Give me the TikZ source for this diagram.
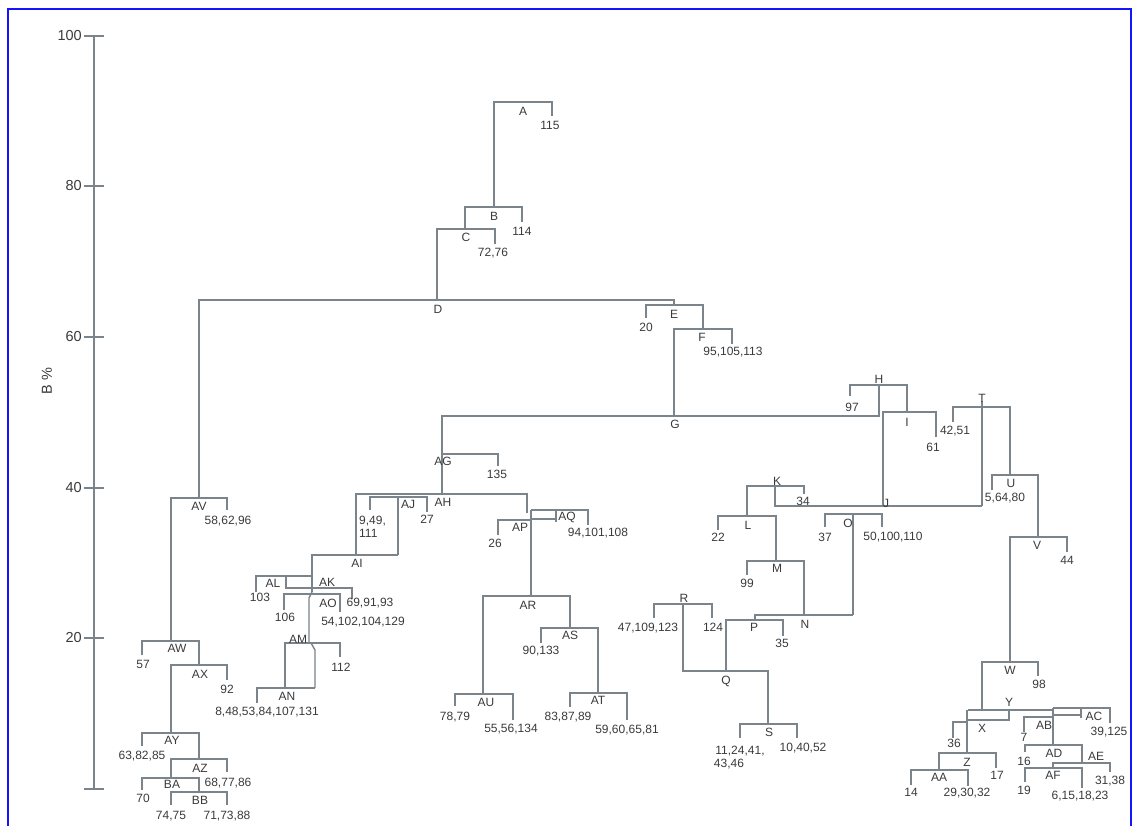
\documentclass[tikz,border=0pt]{standalone}
\usepackage{fontspec}
\setmainfont{Liberation Sans}
\definecolor{lc}{RGB}{122,132,138}
\definecolor{tc}{RGB}{58,58,58}
\definecolor{bc}{RGB}{20,20,255}
\begin{document}
\begin{tikzpicture}[x=1pt,y=-1pt,
  br/.style={draw=lc,line width=1.4pt,line join=miter},
  lab/.style={text=tc,font=\fontsize{12}{13}\selectfont,inner sep=0pt},
  axl/.style={text=tc,font=\fontsize{14.5}{15}\selectfont,inner sep=0pt}]
\useasboundingbox (0,0) rectangle (1134,826);
% frame
\draw[bc,line width=2pt] (8,830) -- (8,9) -- (1131,9) -- (1131,830);
% axis
\draw[br] (94,36) -- (94,789);
\foreach \yy/\tx in {36/100,186/80,337/60,488/40,638/20}{
  \draw[br] (84,\yy) -- (104,\yy);
  \node[axl,anchor=east] (tick\tx) at (82,\yy) {\tx};
}
\draw[br] (84,789) -- (104,789);
\node[axl,rotate=90] (ylab) at (47,381) {B \%};
% ---------- top ----------
\draw[br] (494,207) |- (552,102) -- (552,116);
\node[lab] (nA) at (523,111) {A}; \node[lab] (l115) at (550,125) {115};
\draw[br] (465,229) |- (522,207) -- (522,222);
\node[lab] (nB) at (494,216) {B}; \node[lab] (l114) at (522,231) {114};
\draw[br] (437,300) |- (495,229) -- (495,244);
\node[lab] (nC) at (466,237) {C}; \node[lab] (l7276) at (493,253) {72,76};
\draw[br] (199,498) |- (674,300) -- (674,305);
\node[lab] (nD) at (438,309) {D};
\draw[br] (646,318) |- (703,305) -- (703,329);
\node[lab] (nE) at (674,314) {E}; \node[lab] (l20) at (646,327) {20};
\draw[br] (674,416) |- (732,329) -- (732,344);
\node[lab] (nF) at (702,337) {F}; \node[lab] (l95) at (733,352) {95,105,113};
\draw[br] (442,494) |- (879,416) -- (879,385);
\node[lab] (nG) at (675,424) {G};
% ---------- right ----------
\draw[br] (850,396) |- (907,385) -- (907,412);
\node[lab] (nH) at (879,379) {H}; \node[lab] (l97) at (852,407) {97};
\draw[br] (883,506) |- (936,412) -- (936,437);
\node[lab] (nI) at (907,422) {I}; \node[lab] (l61) at (933,447) {61};
\draw[br] (953,422) |- (1010,407) -- (1010,475);
\draw[br] (982,401) -- (982,506);
\node[lab] (nT) at (982,398) {T}; \node[lab] (l4251) at (955,431) {42,51};
\draw[br] (775,486) |- (982,506);
\node[lab] (nJ) at (886,503) {J};
\draw[br] (747,516) |- (804,486) -- (804,494);
\node[lab] (nK) at (777,481) {K}; \node[lab] (l34) at (803,501) {34};
\draw[br] (718,530) |- (776,516) -- (776,561);
\node[lab] (nL) at (748,525) {L}; \node[lab] (l22) at (718,537) {22};
\draw[br] (747,575) |- (804,561) -- (804,615);
\node[lab] (nM) at (777,568) {M}; \node[lab] (l99) at (747,583) {99};
\draw[br] (825,527) |- (882,514) -- (882,527);
\draw[br] (853,514) -- (853,615);
\node[lab] (nO) at (848,523) {O}; \node[lab] (l37) at (825,537) {37};
\node[lab] (l50) at (893,537) {50,100,110};
\draw[br] (755,620) |- (853,615);
\node[lab] (nN) at (805,624) {N};
\draw[br] (726,671) |- (783,620) -- (783,636);
\node[lab] (nP) at (754,627) {P}; \node[lab] (l35) at (782,643) {35};
\draw[br] (683,604) |- (768,671) -- (768,724);
\node[lab] (nQ) at (726,681) {Q};
\draw[br] (654,618) |- (712,604) -- (712,618);
\node[lab] (nR) at (684,598) {R}; \node[lab] (l47) at (648,628) {47,109,123};
\node[lab] (l124) at (713,627) {124};
\draw[br] (740,738) |- (797,724) -- (797,738);
\node[lab] (nS) at (769,732) {S};
\node[lab] (l11) at (740,751) {11,24,41,}; \node[lab] (l43) at (729,764) {43,46};
\node[lab] (l10) at (803,748) {10,40,52};
\draw[br] (992,490) |- (1038,475) -- (1038,537);
\node[lab] (nU) at (1011,483) {U}; \node[lab] (l5) at (1005,498) {5,64,80};
\draw[br] (1010,662) |- (1067,537) -- (1067,552);
\node[lab] (nV) at (1037,545) {V}; \node[lab] (l44) at (1067,560) {44};
\draw[br] (982,710) |- (1038,662) -- (1038,676);
\node[lab] (nW) at (1010,670) {W}; \node[lab] (l98) at (1039,684) {98};
\draw[br] (968,710) -- (1053,710);
\node[lab] (nY) at (1009,702) {Y};
\draw[br] (1009,710) |- (967,720);
\draw[br] (967,710) -- (967,753);
\node[lab] (nX) at (982,728) {X};
\draw[br] (953,738) |- (967,722);
\node[lab] (l36) at (954,743) {36};
\draw[br] (939,770) |- (996,753) -- (996,768);
\node[lab] (nZ) at (967,762) {Z}; \node[lab] (l17) at (997,775) {17};
\draw[br] (911,785) |- (968,770) -- (968,786);
\node[lab] (nAA) at (939,777) {AA}; \node[lab] (l14) at (911,792) {14};
\node[lab] (l29) at (967,793) {29,30,32};
\draw[br] (1024,732) |- (1053,717);
\draw[br] (1053,708) -- (1053,745);
\node[lab] (nAB) at (1044,725) {AB}; \node[lab] (l7) at (1024,737) {7};
\draw[br] (1053,708) -- (1110,708) -- (1110,723);
\draw[br] (1053,715) -- (1081,715);
\draw[br] (1081,708) -- (1081,718);
\node[lab] (nAC) at (1094,716) {AC}; \node[lab] (l39) at (1109,732) {39,125};
\draw[br] (1025,752) |- (1082,745) -- (1082,763);
\node[lab] (nAD) at (1054,753) {AD}; \node[lab] (l16) at (1024,761) {16};
\draw[br] (1053,768) |- (1110,763) -- (1110,772);
\node[lab] (nAE) at (1096,756) {AE}; \node[lab] (l31) at (1110,781) {31,38};
\draw[br] (1025,782) |- (1082,768) -- (1082,788);
\node[lab] (nAF) at (1053,775) {AF}; \node[lab] (l19) at (1024,790) {19};
\node[lab] (l6) at (1080,796) {6,15,18,23};
% ---------- left ----------
\draw[br] (171,641) |- (227,498) -- (227,510);
\node[lab] (nAV) at (199,506) {AV}; \node[lab] (l58) at (228,521) {58,62,96};
\draw[br] (142,655) |- (199,641) -- (199,665);
\node[lab] (nAW) at (177,648) {AW}; \node[lab] (l57) at (143,664) {57};
\draw[br] (171,733) |- (227,665) -- (227,680);
\node[lab] (nAX) at (200,674) {AX}; \node[lab] (l92) at (227,689) {92};
\draw[br] (142,746) |- (199,733) -- (199,759);
\node[lab] (nAY) at (172,740) {AY}; \node[lab] (l63) at (142,756) {63,82,85};
\draw[br] (171,778) |- (227,759) -- (227,772);
\node[lab] (nAZ) at (200,768) {AZ}; \node[lab] (l68) at (228,783) {68,77,86};
\draw[br] (142,790) |- (199,778) -- (199,792);
\node[lab] (nBA) at (172,784) {BA}; \node[lab] (l70) at (143,798) {70};
\draw[br] (171,805) |- (227,792) -- (227,805);
\node[lab] (nBB) at (200,800) {BB}; \node[lab] (l74) at (171,816) {74,75};
\node[lab] (l71) at (227,816) {71,73,88};
% ---------- middle ----------
\draw[br] (442,454) -- (498,454) -- (498,466);
\node[lab] (nAG) at (443,461) {AG}; \node[lab] (l135) at (497,474) {135};
\draw[br] (356,555) |- (527,494) -- (527,513);
\node[lab] (nAH) at (443,502) {AH};
\draw[br] (370,510) |- (427,497) -- (427,512);
\draw[br] (398,497) -- (398,555);
\node[lab] (nAJ) at (408,504) {AJ};
\node[lab,anchor=west] (l9) at (359,521) {9,49,};
\node[lab,anchor=west] (l111) at (359,533) {111};
\node[lab] (l27) at (427,519) {27};
\draw[br] (312,592) |- (398,555);
\node[lab] (nAI) at (357,563) {AI};
\draw[br] (256,592) |- (312,576);
\node[lab] (nAL) at (273,583) {AL}; \node[lab] (l103) at (260,597) {103};
\draw[br] (286,576) |- (352,588) -- (352,599);
\node[lab] (nAK) at (327,582) {AK}; \node[lab] (l69) at (370,603) {69,91,93};
\draw[br] (284,610) |- (340,594) -- (340,612);
\node[lab] (nAO) at (328,603) {AO}; \node[lab] (l106) at (285,617) {106};
\node[lab] (l54) at (363,622) {54,102,104,129};
\draw[br] (312,592) -- (309,598) -- (309,643);
\draw[br] (285,688) |- (340,643) -- (340,657);
\node[lab] (nAM) at (298,639) {AM}; \node[lab] (l112) at (341,667) {112};
\draw[br] (257,703) -- (257,688) -- (315,688);
\draw[br] (315,688) -- (315,650) -- (311,643);
\node[lab] (nAN) at (287,696) {AN}; \node[lab] (l8) at (267,712) {8,48,53,84,107,131};
\draw[br] (531,510) -- (531,596);
\draw[br] (531,510) -- (588,510) -- (588,525);
\draw[br] (531,519) -- (556,519);
\draw[br] (556,510) -- (556,522);
\node[lab] (nAQ) at (567,517) {AQ}; \node[lab] (l94) at (598,533) {94,101,108};
\draw[br] (498,535) |- (531,520);
\node[lab] (nAP) at (520,527) {AP}; \node[lab] (l26) at (495,543) {26};
\draw[br] (483,694) |- (570,596) -- (570,628);
\node[lab] (nAR) at (528,605) {AR};
\draw[br] (541,643) |- (598,628) -- (598,693);
\node[lab] (nAS) at (570,635) {AS}; \node[lab] (l90) at (541,651) {90,133};
\draw[br] (570,707) |- (627,693) -- (627,720);
\node[lab] (nAT) at (598,700) {AT}; \node[lab] (l83) at (568,717) {83,87,89};
\node[lab] (l59) at (627,730) {59,60,65,81};
\draw[br] (455,706) |- (513,694) -- (513,720);
\node[lab] (nAU) at (486,702) {AU}; \node[lab] (l78) at (455,717) {78,79};
\node[lab] (l55) at (511,729) {55,56,134};
\end{tikzpicture}
\end{document}
